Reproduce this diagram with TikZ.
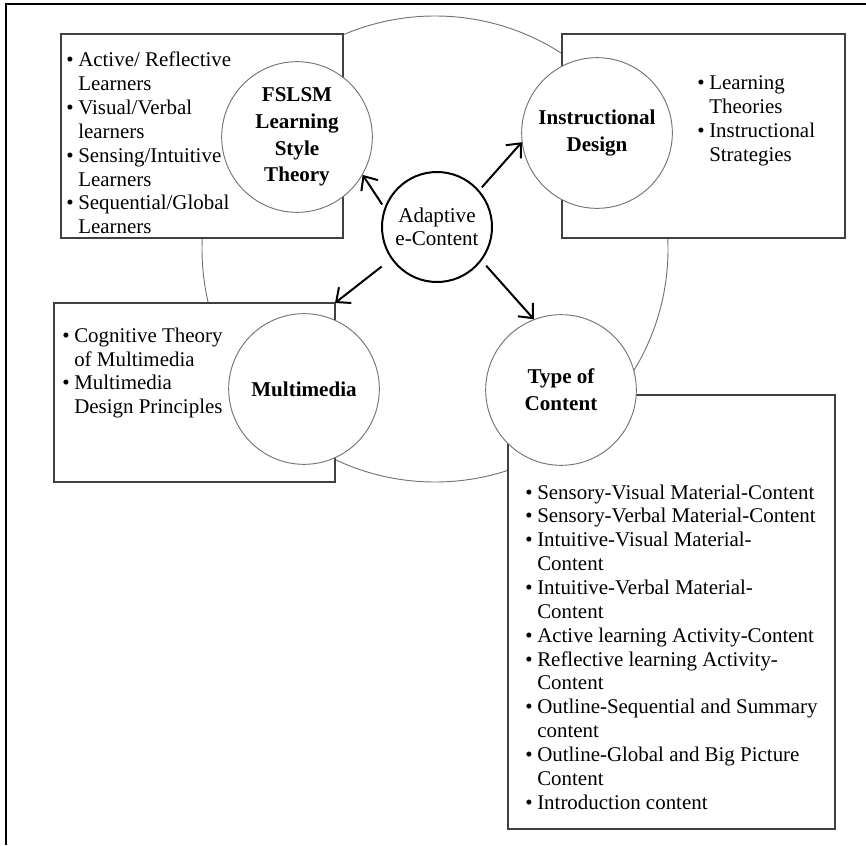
\documentclass[tikz,border=0pt]{standalone}
\usepackage{fontspec}
\setmainfont{Liberation Serif}
\usetikzlibrary{arrows.meta}
\newcommand{\bul}{\makebox[9pt][l]{\textbullet}}
\newcommand{\cont}{\hspace*{9pt}}
\begin{document}
\begin{tikzpicture}[x=0.75pt,y=-0.75pt,
  panel/.style={draw=black!75,line width=1.1pt,fill=white},
  bubble/.style={circle,draw=black!55,line width=0.7pt,fill=white,minimum size=113pt,inner sep=0pt,align=center,font=\bfseries\fontsize{15.8}{20}\selectfont},
  hub/.style={circle,draw,line width=1.5pt,fill=white,minimum size=82.5pt,inner sep=0pt,align=center,font=\fontsize{15.8}{17.3}\selectfont},
  lst/.style={anchor=west,inner sep=0pt,align=left,font=\fontsize{15.7}{17.9}\selectfont},
  link/.style={line width=1.5pt,shorten <=3pt,-{Straight Barb[length=8.5pt,width=15pt,line width=1.5pt]}}]
\useasboundingbox (0,0) rectangle (866,845);
\draw[line width=1.1pt] (6,845)--(6,4)--(866,4);
\node[circle,draw=black!55,line width=0.7pt,minimum size=349.5pt,inner sep=0pt] (ring) at (435,249) {};
\draw[panel] (61,34) rectangle (343,238);
\draw[panel] (562,34) rectangle (845,238);
\draw[panel] (54,303) rectangle (335,482);
\draw[panel] (508,395) rectangle (835,829);
\coordinate (mmne) at (335,303);
\node[bubble] (fslsm) at (297,137) {FSLSM\\Learning\\Style\\Theory};
\node[bubble] (instr) at (597,133) {Instructional\\Design};
\node[bubble] (media) at (304,389) {Multimedia};
\node[bubble] (toc) at (561,390) {Type of\\Content};
\node[hub] (hub) at (437,227) {Adaptive\\e-Content};
\node[lst] (fslsmlist) at (66,143) {\bul Active/ Reflective\\\cont Learners\\\bul Visual/Verbal\\\cont learners\\\bul Sensing/Intuitive\\\cont Learners\\\bul Sequential/Global\\\cont Learners};
\node[lst] (instrlist) at (697,121) {\bul Learning\\\cont Theories\\\bul Instructional\\\cont Strategies};
\node[lst] (medialist) at (62,373) {\bul Cognitive Theory\\\cont of Multimedia\\\bul Multimedia\\\cont Design Principles};
\node[lst] (toclist) at (525,647) {\bul Sensory-Visual Material-Content\\\bul Sensory-Verbal Material-Content\\\bul Intuitive-Visual Material-\\\cont Content\\\bul Intuitive-Verbal Material-\\\cont Content\\\bul Active learning Activity-Content\\\bul Reflective learning Activity-\\\cont Content\\\bul Outline-Sequential and Summary\\\cont content\\\bul Outline-Global and Big Picture\\\cont Content\\\bul Introduction content};
\draw[link] (hub.160)--(fslsm.-30);
\draw[link] (hub.41)--(instr.187);
\draw[link,shorten <=9pt] (hub.215)--(mmne);
\draw[link,shorten <=5pt] (hub.-37)--(toc.111);
\end{tikzpicture}
\end{document}
